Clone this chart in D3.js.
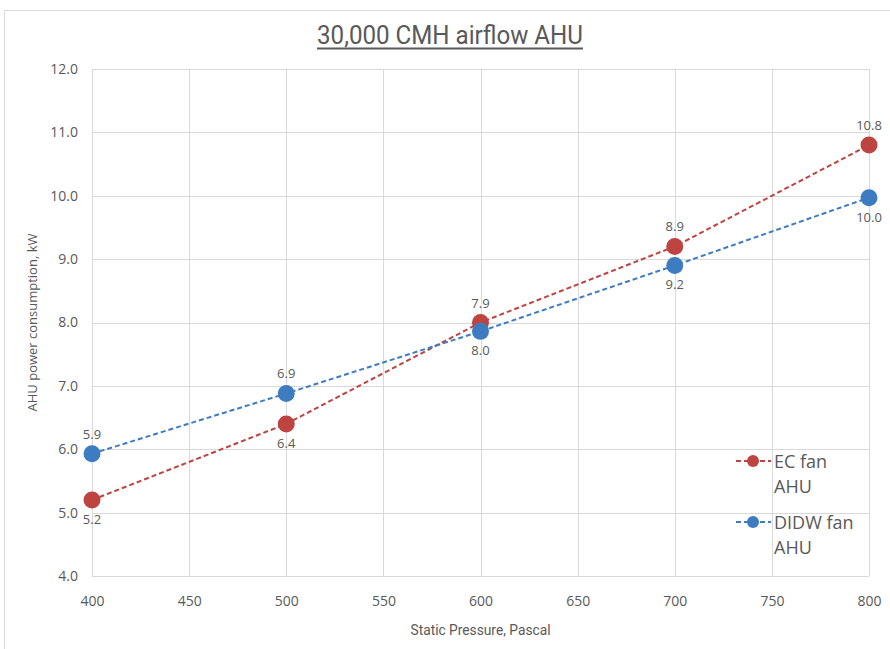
<!DOCTYPE html>
<html>
<head>
<meta charset="utf-8">
<script src="https://cdn.jsdelivr.net/npm/d3@7"></script>
<style>
  html, body { margin: 0; padding: 0; background: #fff; }
  svg { display: block; }
  .narrow { font-family: Roboto, "Liberation Sans", sans-serif; }
  .regular { font-family: "Open Sans", "Noto Sans", sans-serif; }
</style>
</head>
<body>
<svg id="chart" width="890" height="649"></svg>
<script>
// Static pressure (Pa) on the x axis
const pressures = [400, 500, 600, 700, 800];
// AHU power consumption (kW) for each fan type
const ecFan = [5.2, 6.4, 8.0, 9.2, 10.8];
const didwFan = [5.93, 6.88, 7.86, 8.9, 9.97];
const seriesNames = ["EC fan AHU", "DIDW fan AHU"];
const xTicks = [400, 450, 500, 550, 600, 650, 700, 750, 800];
const yTicks = [4, 5, 6, 7, 8, 9, 10, 11, 12];

const W = 890, H = 649;
const margin = { left: 92, right: 21, top: 69, bottom: 73 };
const svg = d3.select("#chart");

// outer chart frame
svg.append("rect")
  .attr("x", 4.5).attr("y", 10.5)
  .attr("width", W + 10).attr("height", H + 10)
  .attr("fill", "#fff").attr("stroke", "#d9d9d9").attr("stroke-width", 1);

const x = d3.scaleLinear().domain([400, 800]).range([margin.left, W - margin.right]);
const y = d3.scaleLinear().domain([4, 12]).range([H - margin.bottom, margin.top]);

// gridlines
const grid = svg.append("g");
grid.selectAll("line.v").data(xTicks).join("line")
  .attr("x1", d => Math.round(x(d)) + 0.5).attr("x2", d => Math.round(x(d)) + 0.5)
  .attr("y1", y(12)).attr("y2", y(4))
  .attr("stroke", "#d9d9d9").attr("stroke-width", 1);
grid.selectAll("line.h").data(yTicks).join("line")
  .attr("y1", d => Math.round(y(d)) + 0.5).attr("y2", d => Math.round(y(d)) + 0.5)
  .attr("x1", x(400)).attr("x2", x(800))
  .attr("stroke", "#d9d9d9").attr("stroke-width", 1);

// axes (labels only; lines come from the grid)
const xAxis = svg.append("g")
  .attr("transform", `translate(0,${y(4)})`)
  .call(d3.axisBottom(x).tickValues(xTicks).tickSize(0).tickPadding(20).tickFormat(d3.format("d")));
const yAxis = svg.append("g")
  .attr("transform", `translate(${x(400)},0)`)
  .call(d3.axisLeft(y).tickValues(yTicks).tickSize(0).tickPadding(14).tickFormat(d3.format(".1f")));
[xAxis, yAxis].forEach(a => {
  a.select(".domain").remove();
  a.selectAll("text").attr("class", "regular").attr("font-size", 14).attr("fill", "#595959");
});

// title (condensed, underlined)
svg.append("text")
  .attr("class", "narrow")
  .attr("x", 317).attr("y", 44)
  .attr("textLength", 266).attr("lengthAdjust", "spacingAndGlyphs")
  .attr("font-size", 26).attr("fill", "#595959")
  .text("30,000 CMH airflow AHU");
svg.append("line")
  .attr("x1", 317).attr("x2", 583)
  .attr("y1", 48.5).attr("y2", 48.5)
  .attr("stroke", "#595959").attr("stroke-width", 2.2);

// axis titles
svg.append("text")
  .attr("class", "narrow")
  .attr("x", (x(400) + x(800)) / 2).attr("y", 635)
  .attr("text-anchor", "middle")
  .attr("textLength", 140).attr("lengthAdjust", "spacingAndGlyphs")
  .attr("font-size", 15).attr("fill", "#595959")
  .text("Static Pressure, Pascal");
svg.append("text")
  .attr("class", "regular")
  .attr("transform", `translate(37,${(y(4) + y(12)) / 2}) rotate(-90)`)
  .attr("text-anchor", "middle")
  .attr("font-size", 13).attr("fill", "#595959")
  .text("AHU power consumption, kW");

const series = [
  { name: seriesNames[0], values: ecFan, color: "#BE4441" },
  { name: seriesNames[1], values: didwFan, color: "#3E7CC1" }
];

const line = d3.line().x(d => x(d[0])).y(d => y(d[1]));

series.forEach(s => {
  const pts = pressures.map((p, i) => [p, s.values[i]]);
  svg.append("path")
    .datum(pts)
    .attr("d", line)
    .attr("fill", "none")
    .attr("stroke", s.color).attr("stroke-width", 2)
    .attr("stroke-dasharray", "5,3");
});

series.forEach(s => {
  const pts = pressures.map((p, i) => [p, s.values[i]]);
  svg.append("g").selectAll("circle").data(pts).join("circle")
    .attr("cx", d => x(d[0])).attr("cy", d => y(d[1]))
    .attr("r", 8.5).attr("fill", s.color);
});

// value labels: one slot above the higher marker, one below the lower marker.
// DIDW values take the upper slot and EC values the lower one, except at the last pressure.
const labels = [];
pressures.forEach((p, i) => {
  const top = Math.min(y(ecFan[i]), y(didwFan[i]));
  const bottom = Math.max(y(ecFan[i]), y(didwFan[i]));
  const last = i === pressures.length - 1;
  const upperVal = last ? ecFan[i] : didwFan[i];
  const lowerVal = last ? didwFan[i] : ecFan[i];
  labels.push({ p, v: upperVal, ty: top - 15 });
  labels.push({ p, v: lowerVal, ty: bottom + 24 });
});
svg.append("g").selectAll("text").data(labels).join("text")
  .attr("class", "regular")
  .attr("x", d => x(d.p))
  .attr("y", d => d.ty)
  .attr("text-anchor", "middle")
  .attr("font-size", 13).attr("fill", "#595959")
  .text(d => d.v.toFixed(1));

// legend
const legend = svg.append("g");
series.forEach((s, i) => {
  const ly = 461 + i * 61;
  const g = legend.append("g");
  g.append("line")
    .attr("x1", 736).attr("x2", 771).attr("y1", ly).attr("y2", ly)
    .attr("stroke", s.color).attr("stroke-width", 2).attr("stroke-dasharray", "5,3");
  g.append("circle").attr("cx", 753).attr("cy", ly).attr("r", 6).attr("fill", s.color);
  const words = s.name.split(" ");
  const first = words.slice(0, -1).join(" "), last = words[words.length - 1];
  const t = g.append("text")
    .attr("class", "regular")
    .attr("x", 774).attr("y", ly + 7)
    .attr("font-size", 18).attr("fill", "#595959");
  t.append("tspan").attr("x", 774).text(first);
  t.append("tspan").attr("x", 774).attr("dy", 25).text(last);
});
</script>
</body>
</html>
